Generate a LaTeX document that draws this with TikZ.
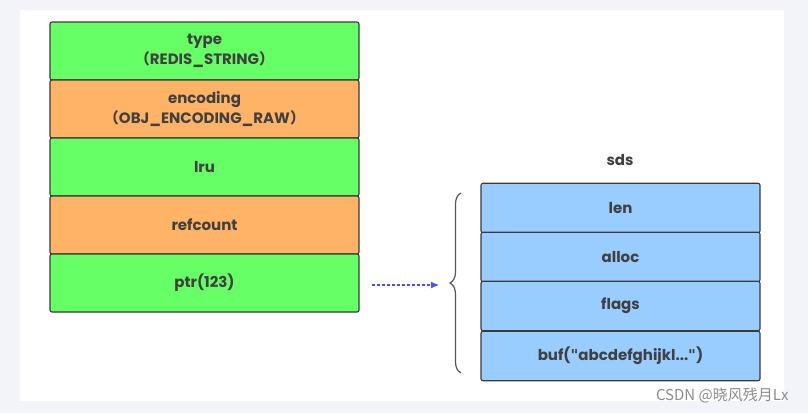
\documentclass[tikz,border=0pt]{standalone}
\usepackage{fontspec}
\setmainfont{Poppins}
\newfontfamily\cjk{Noto Sans CJK SC}
\newfontfamily\qfont{DejaVu Sans}
\usetikzlibrary{decorations.pathreplacing,arrows.meta}
\definecolor{bgc}{HTML}{F2F4F9}
\definecolor{grn}{HTML}{66FF66}
\definecolor{org}{HTML}{FFB366}
\definecolor{blu}{HTML}{99CCFF}
\definecolor{edge}{HTML}{3A3A3A}
\definecolor{arr}{HTML}{4D4DFF}
\begin{document}
\begin{tikzpicture}[x=1pt,y=-1pt,
  cell/.style={draw=edge,line width=1.1pt,rounded corners=2pt,minimum width=309pt,minimum height=58pt,inner sep=0pt,align=center,font=\fontsize{15}{20}\selectfont\bfseries,text=black!75},
  scell/.style={cell,minimum width=279pt,minimum height=49.5pt},
  ]
\useasboundingbox (0,0) rectangle (808,413);
\fill[bgc] (0,0) rectangle (808,413);
\fill[white] (20,10) rectangle (784,401);
% left stack
\node[cell,fill=grn] (type) at (204.5,51) {type\\{\cjk （}REDIS\_STRING{\cjk ）}};
\node[cell,fill=org] (enc) at (204.5,109) {encoding\\{\cjk （}OBJ\_ENCODING\_RAW{\cjk ）}};
\node[cell,fill=grn] (lru) at (204.5,167) {lru};
\node[cell,fill=org] (ref) at (204.5,225) {refcount};
\node[cell,fill=grn] (ptr) at (204.5,283) {ptr(123)};
% right stack
\node[font=\fontsize{15}{20}\selectfont\bfseries,text=black!75] (sds) at (620,160) {sds};
\node[scell,fill=blu] (len) at (620.5,208) {len};
\node[scell,fill=blu] (alloc) at (620.5,257) {alloc};
\node[scell,fill=blu] (flags) at (620.5,306) {flags};
\node[scell,fill=blu] (buf) at (620.5,356) {buf({\qfont\char34}abcdefghijkl...{\qfont\char34})};
% brace
\coordinate (bt) at (461,193);
\coordinate (bb) at (461,373);
\draw[edge!85,line width=1.2pt,decorate,decoration={brace,amplitude=11pt,mirror,raise=0pt}] (bt) -- (bb);
% arrow
\coordinate (as) at (372,285);
\coordinate (ae) at (439,285);
\draw[arr,dash pattern=on 3pt off 2pt,line width=1.2pt,-{Latex[length=8pt,width=7pt]}] (as) -- (ae);
% watermark
\node[anchor=east,font=\cjk\fontsize{15}{17}\selectfont,text=black!45] (wm) at (792,395) {CSDN @晓风残月Lx};
\end{tikzpicture}
\end{document}
